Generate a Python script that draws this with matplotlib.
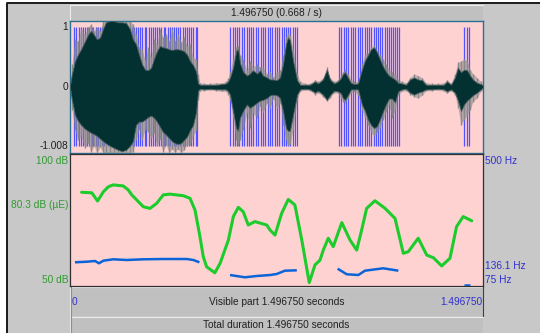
import numpy as np
import matplotlib.pyplot as plt
from matplotlib.patches import Rectangle

plt.rcParams['font.family'] = ['Liberation Sans', 'DejaVu Sans']
plt.rcParams['font.size'] = 7.3

duration = 1.49675

# sound envelope (seconds, amplitude): dark body and grey peaks
wave_t = [0.000, 0.007, 0.018, 0.029, 0.040, 0.054, 0.065, 0.076, 0.087, 0.098, 0.109, 0.120, 0.130, 0.145,
          0.159, 0.174, 0.188, 0.203, 0.217, 0.228, 0.239, 0.250, 0.261, 0.272, 0.283, 0.294, 0.304, 0.315,
          0.326, 0.337, 0.348, 0.359, 0.370, 0.381, 0.391, 0.402, 0.413, 0.424, 0.435, 0.446, 0.457, 0.464,
          0.471,
          0.486, 0.507, 0.529, 0.551, 0.565, 0.573, 0.580, 0.591, 0.602, 0.609, 0.616, 0.627, 0.641, 0.652,
          0.663, 0.678, 0.689, 0.699, 0.714, 0.725, 0.736, 0.750, 0.761, 0.772, 0.783, 0.790, 0.797, 0.808,
          0.823, 0.834,
          0.852, 0.870, 0.888, 0.899, 0.917, 0.931, 0.942, 0.957, 0.971, 0.982, 0.989, 0.997, 1.007, 1.018,
          1.029, 1.044, 1.058, 1.069, 1.080, 1.091, 1.102, 1.113, 1.123, 1.134, 1.145, 1.156, 1.167, 1.178,
          1.189, 1.203, 1.218, 1.232, 1.247, 1.261, 1.276, 1.290, 1.312, 1.334, 1.355, 1.366, 1.381, 1.395,
          1.406, 1.417, 1.428, 1.439, 1.450, 1.460, 1.475, 1.489, 1.49675]
body_hi = [0.02, 0.19, 0.39, 0.49, 0.57, 0.69, 0.79, 0.85, 0.79, 0.72, 0.75, 0.88, 0.98, 1.00, 1.00, 0.98,
           0.98, 0.97, 0.88, 0.72, 0.65, 0.49, 0.34, 0.26, 0.25, 0.29, 0.42, 0.54, 0.62, 0.60, 0.59, 0.57,
           0.56, 0.57, 0.57, 0.56, 0.54, 0.49, 0.39, 0.33, 0.23, 0.05, 0.03,
           0.03, 0.03, 0.03, 0.04, 0.05, 0.08, 0.14, 0.29, 0.54, 0.57, 0.36, 0.23, 0.17, 0.20, 0.25, 0.20,
           0.25, 0.17, 0.14, 0.11, 0.11, 0.10, 0.14, 0.34, 0.65, 0.75, 0.71, 0.40, 0.10, 0.03,
           0.03, 0.03, 0.08, 0.05, 0.11, 0.26, 0.11, 0.05, 0.08, 0.13, 0.19, 0.22, 0.14, 0.06, 0.04, 0.05,
           0.26, 0.40, 0.48, 0.57, 0.60, 0.52, 0.42, 0.31, 0.23, 0.17, 0.14, 0.11, 0.06, 0.05, 0.03, 0.11,
           0.14, 0.11, 0.10, 0.03, 0.03, 0.03, 0.03, 0.08, 0.03, 0.14, 0.29, 0.22, 0.26, 0.25, 0.17, 0.11,
           0.06, 0.04, 0.02]
body_lo = [-0.01, -0.20, -0.43, -0.52, -0.58, -0.64, -0.67, -0.70, -0.72, -0.75, -0.79, -0.83, -0.86, -0.90,
           -0.93, -0.96, -0.98, -0.96, -0.90, -0.83, -0.58, -0.53, -0.53, -0.50, -0.46, -0.44, -0.47, -0.53,
           -0.61, -0.69, -0.73, -0.78, -0.83, -0.86, -0.87, -0.86, -0.81, -0.76, -0.66, -0.58, -0.38, -0.06,
           -0.03,
           -0.04, -0.03, -0.04, -0.04, -0.04, -0.07, -0.12, -0.37, -0.63, -0.67, -0.47, -0.37, -0.27, -0.32,
           -0.29, -0.24, -0.21, -0.20, -0.17, -0.13, -0.12, -0.13, -0.17, -0.37, -0.63, -0.67, -0.67, -0.43,
           -0.12, -0.04,
           -0.03, -0.04, -0.09, -0.06, -0.12, -0.20, -0.13, -0.06, -0.07, -0.10, -0.17, -0.20, -0.13, -0.04,
           -0.04, -0.04, -0.27, -0.37, -0.50, -0.58, -0.63, -0.60, -0.50, -0.38, -0.27, -0.18, -0.18, -0.24,
           -0.07, -0.04, -0.03, -0.09, -0.12, -0.09, -0.07, -0.04, -0.04, -0.03, -0.04, -0.07, -0.04, -0.09,
           -0.21, -0.37, -0.27, -0.21, -0.17, -0.13, -0.09, -0.04, -0.01]
peak_hi = [0.03, 0.34, 0.72, 0.70, 0.88, 0.80, 0.91, 0.95, 0.85, 0.91, 0.85, 1.00, 1.00, 1.00, 1.00, 1.00,
           1.00, 1.00, 1.00, 0.95, 0.80, 0.60, 0.57, 0.40, 0.60, 0.45, 0.72, 0.65, 0.88, 0.75, 0.80, 0.70,
           0.88, 0.70, 0.80, 0.68, 0.75, 0.62, 0.65, 0.45, 0.42, 0.19, 0.06,
           0.05, 0.05, 0.06, 0.06, 0.08, 0.13, 0.23, 0.42, 0.60, 0.62, 0.49, 0.42, 0.25, 0.39, 0.30, 0.34,
           0.30, 0.29, 0.20, 0.23, 0.15, 0.23, 0.25, 0.49, 0.75, 0.82, 0.79, 0.57, 0.20, 0.08,
           0.05, 0.05, 0.11, 0.08, 0.14, 0.30, 0.14, 0.08, 0.11, 0.17, 0.23, 0.26, 0.20, 0.11, 0.08, 0.08,
           0.34, 0.49, 0.52, 0.60, 0.63, 0.55, 0.49, 0.42, 0.34, 0.26, 0.23, 0.20, 0.11, 0.08, 0.06, 0.14,
           0.19, 0.17, 0.14, 0.06, 0.05, 0.05, 0.06, 0.11, 0.05, 0.20, 0.37, 0.39, 0.42, 0.39, 0.26, 0.20,
           0.14, 0.08, 0.03]
peak_lo = [-0.03, -0.35, -0.66, -0.81, -0.75, -0.93, -0.85, -0.99, -0.90, -1.00, -0.92, -1.00, -1.00, -1.00,
           -1.00, -1.00, -1.00, -1.00, -1.00, -0.99, -0.81, -0.65, -0.81, -0.65, -0.69, -0.78, -0.70, -0.89,
           -0.80, -0.99, -0.88, -1.00, -0.95, -1.00, -0.95, -1.00, -0.96, -0.88, -0.89, -0.75, -0.66, -0.20,
           -0.06,
           -0.06, -0.05, -0.06, -0.07, -0.07, -0.12, -0.20, -0.47, -0.81, -0.90, -0.81, -0.66, -0.40, -0.63,
           -0.40, -0.47, -0.30, -0.38, -0.25, -0.32, -0.18, -0.32, -0.25, -0.58, -0.81, -0.89, -0.87, -0.66,
           -0.20, -0.07,
           -0.05, -0.06, -0.12, -0.09, -0.15, -0.22, -0.17, -0.09, -0.10, -0.17, -0.23, -0.24, -0.18, -0.09,
           -0.07, -0.12, -0.35, -0.47, -0.58, -0.69, -0.75, -0.69, -0.63, -0.50, -0.38, -0.27, -0.47, -0.35,
           -0.12, -0.07, -0.06, -0.12, -0.15, -0.17, -0.13, -0.06, -0.06, -0.05, -0.07, -0.10, -0.06, -0.13,
           -0.32, -0.58, -0.50, -0.43, -0.35, -0.23, -0.17, -0.07, -0.03]

# glottal pulses (ms)
pulses_1 = [15, 23, 31, 39, 46, 54, 62, 70, 78, 85, 93, 101, 108, 116, 124, 131, 139, 147, 154, 162,
            170, 177, 185, 193, 200, 208, 216, 223, 231, 239, 246, 254, 262, 270, 277, 285, 293, 300, 308,
            316, 323, 331, 339, 346, 354, 362, 369, 377, 385, 393, 400, 408, 416, 424, 431, 439, 447, 455, 462]
pulses_2 = [580, 589, 597, 606, 614, 623, 631, 640, 648, 657, 665, 674, 682, 691, 699, 708, 716, 725,
            733, 742, 750, 759, 767, 775, 783, 791, 799, 807, 815, 822]
pulses_3 = [975, 983, 992, 1000, 1009, 1017, 1026, 1034, 1043, 1051, 1060, 1068, 1076, 1084, 1092, 1100,
            1108, 1116, 1124, 1132, 1140, 1148, 1156, 1164, 1172, 1179, 1186, 1193]
pulses_4 = [1428, 1438, 1447]

# intensity (dB)
int_t = [0.042, 0.079, 0.100, 0.121, 0.139, 0.157, 0.193, 0.211, 0.224, 0.266, 0.290, 0.314, 0.338, 0.362,
         0.411, 0.435, 0.453, 0.471, 0.483, 0.495, 0.525, 0.544, 0.574, 0.592, 0.610, 0.628, 0.646, 0.670,
         0.713, 0.725, 0.743, 0.767, 0.791, 0.815, 0.840, 0.867, 0.888, 0.906, 0.918, 0.936, 0.954, 0.985,
         1.015, 1.039, 1.057, 1.075, 1.105, 1.142, 1.178, 1.208, 1.226, 1.262, 1.293, 1.317, 1.347, 1.377,
         1.401, 1.425, 1.456]
int_db = [85.5, 85.3, 82.2, 85.7, 87.6, 88.3, 87.9, 86.4, 84.5, 80.0, 79.4, 81.3, 84.5, 84.8,
          84.2, 83.2, 78.8, 68.7, 61.1, 57.3, 55.0, 58.6, 67.4, 76.3, 79.8, 78.1, 73.1, 74.4,
          73.1, 71.2, 69.3, 77.5, 82.8, 80.7, 67.4, 51.3, 58.0, 59.8, 63.6, 68.1, 64.9, 74.0,
          67.4, 63.6, 71.2, 79.4, 82.3, 79.4, 75.6, 62.4, 63.0, 68.1, 61.7, 60.7, 57.6, 60.5,
          72.5, 76.3, 74.7]

# pitch (Hz), voiced stretches
pitch_t = [[0.018, 0.061, 0.091, 0.105, 0.121, 0.157, 0.205, 0.266, 0.338, 0.423, 0.447, 0.469],
           [0.580, 0.634, 0.677, 0.725, 0.749, 0.779, 0.822],
           [0.970, 1.003, 1.045, 1.069, 1.135, 1.190],
           [1.428, 1.450]]
pitch_hz = [[151.3, 153.2, 155.5, 148.1, 156.5, 161.0, 158.7, 161.0, 161.9, 161.9, 158.7, 151.3],
            [110.4, 103.0, 107.2, 110.4, 113.6, 124.3, 125.5],
            [130.7, 112.7, 110.4, 124.3, 132.0, 124.3],
            [79.0, 79.0]]

pink = '#ffd2d2'
green_txt = '#2f9b2f'
blue_txt = '#3030d0'

W, H = 540, 333
fig = plt.figure(figsize=(W / 100, H / 100), dpi=100)


def box(x0, y0, x1, y1):
    return [x0 / W, 1 - y1 / H, (x1 - x0) / W, (y1 - y0) / H]


# window background, frame and grey bars
bg = fig.add_axes([0, 0, 1, 1])
bg.set_xlim(0, W)
bg.set_ylim(H, 0)
bg.axis('off')
bg.add_patch(Rectangle((7, 3), W - 7, H - 3, fc='#c8c8c8', ec='none'))
bg.plot([7, 7, W], [H, 3, 3], color='#1a1a1a', lw=1.4, solid_capstyle='butt')
for y0, h in [(5, 16), (287, 29), (317, 16)]:
    bg.add_patch(Rectangle((70, y0), 413, h, fc='#c0c0c0', ec='none'))
    bg.plot([70, 70, 483], [y0 + h, y0, y0], color='#ececec', lw=0.8)
bg.plot([70.5, 70.5], [287, H], color='#8c8c8c', lw=0.8)
bg.plot([483, 483], [287, 316], color='#404040', lw=0.8)

bg.text(276.5, 13.5, f'{duration:.6f} ({1 / duration:.3f} / s)', ha='center', va='center', color='#202020')
bg.text(276.5, 302, f'Visible part {duration:.6f} seconds', ha='center', va='center', color='#202020')
bg.text(276.5, 325, f'Total duration {duration:.6f} seconds', ha='center', va='center', color='#202020')

# sound panel
ax_w = fig.add_axes(box(70, 21, 483, 153))
ax_w.set_facecolor(pink)
ax_w.set_xlim(0, duration)
ax_w.set_ylim(-1.008, 1)
pulses = np.array(pulses_1 + pulses_2 + pulses_3 + pulses_4) / 1000
ax_w.vlines(pulses, -0.90, 0.91, color='#5252ff', lw=0.9, zorder=1)
ax_w.fill_between(wave_t, peak_lo, peak_hi, color='#8a8a8a', alpha=0.55, lw=0, zorder=2)
ax_w.vlines(wave_t, peak_lo, peak_hi, color='#8a8a8a', lw=1.0, zorder=2)
ax_w.fill_between(wave_t, body_lo, body_hi, color='#033131', ec='#4a5c5c', lw=0.6, zorder=3)
ax_w.set_xticks([])
ax_w.set_yticks([])
for s in ax_w.spines.values():
    s.set_color('#2a7090')
    s.set_linewidth(1.0)


def side_label(ax, text, y, va, color, dy, right=False):
    x, dx, ha = (1, 2, 'left') if right else (0, -2, 'right')
    ax.annotate(text, xy=(x, y), xycoords=('axes fraction', 'data'), xytext=(dx, dy),
                textcoords='offset pixels', ha=ha, va=va, color=color)


side_label(ax_w, '1', 1, 'top', '#202020', -1)
side_label(ax_w, '0', 0, 'center', '#202020', 0)
side_label(ax_w, '-1.008', -1.008, 'baseline', '#202020', 4)

# intensity / pitch panel
ax_i = fig.add_axes(box(70, 154, 483, 286))
ax_i.set_facecolor(pink)
ax_i.set_xlim(0, duration)
ax_i.set_ylim(50, 100)
ax_i.plot(int_t, int_db, color='#1ccc2c', lw=2.2, solid_joinstyle='round', solid_capstyle='round')
ax_i.set_xticks([])
ax_i.set_yticks([])
for s in ax_i.spines.values():
    s.set_color('#303030')
    s.set_linewidth(0.9)

ax_p = ax_i.twinx()
ax_p.set_ylim(75, 500)
for t, hz in zip(pitch_t, pitch_hz):
    ax_p.plot(t, hz, color='#0a64d8', lw=1.8, solid_capstyle='butt')
ax_p.set_yticks([])
for s in ax_p.spines.values():
    s.set_visible(False)

side_label(ax_i, '100 dB', 100, 'top', green_txt, -2)
side_label(ax_i, '80.3 dB (\u00b5E)', 80.3, 'center', green_txt, 1)
side_label(ax_i, '50 dB', 50, 'baseline', green_txt, 3)
side_label(ax_p, '500 Hz', 500, 'top', blue_txt, -2, right=True)
side_label(ax_p, '136.1 Hz', 136.1, 'center', blue_txt, 1, right=True)
side_label(ax_p, '75 Hz', 75, 'baseline', blue_txt, 3, right=True)

ax_i.annotate('0', xy=(0, 0), xycoords=('data', 'axes fraction'), xytext=(2, -16),
              textcoords='offset pixels', ha='left', va='center', color=blue_txt)
ax_i.annotate(f'{duration:.6f}', xy=(duration, 0), xycoords=('data', 'axes fraction'), xytext=(-1, -16),
              textcoords='offset pixels', ha='right', va='center', color=blue_txt)

fig.savefig('out.png', dpi=100)
